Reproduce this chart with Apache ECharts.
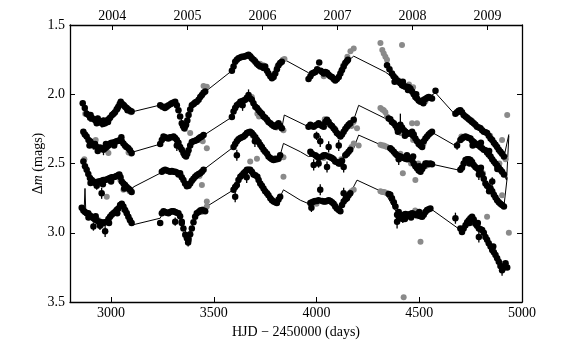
<!DOCTYPE html>
<html>
<head>
<meta charset="utf-8">
<script src="https://cdn.jsdelivr.net/npm/echarts@6/dist/echarts.min.js"></script>
<style>
  html, body { margin: 0; padding: 0; background: #fff; }
  #chart { width: 565px; height: 347px; }
</style>
</head>
<body>
<div id="chart"></div>
<script>
// bottom axis (days) and top axis (calendar years)
const dayTicks = [3000, 3500, 4000, 4500, 5000];
const yearTicks = [3005.5, 3371.5, 3736.5, 4101.5, 4466.5, 4832.5];
const yearLabels = ['2004', '2005', '2006', '2007', '2008', '2009'];

// [HJD-2450000, dm, error]  -- curve A (top)
const blackA = [
  [2862,2.065,.02],[2872,2.1,.02],[2881,2.14,.02],[2890,2.15,.02],[2898,2.17,.03],[2906,2.17,.02],[2915,2.18,.02],[2925,2.19,.02],[2935,2.175,.02],[2946,2.2,.02],[2955,2.21,.03],[2963,2.19,.02],[2971,2.21,.02],[2980,2.19,.02],[2988,2.18,.02],[2995,2.17,.02],[3005,2.15,.02],[3012,2.14,.02],[3019,2.13,.02],[3027,2.11,.02],[3035,2.09,.02],[3042,2.07,.02],[3047,2.055,.02],[3055,2.07,.02],[3062,2.08,.02],[3068,2.09,.02],[3076,2.1,.02],[3084,2.11,.02],[3092,2.12,.02],[3100,2.125,.02],
  [2900,2.15],[2930,2.21],[2960,2.215],[2985,2.2],[3030,2.105],[3080,2.115],
  [3239,2.08],[3250,2.09],[3262,2.1],[3271,2.09],[3280,2.08],[3290,2.07],[3296,2.065],[3304,2.06],[3312,2.055],[3320,2.08],[3328,2.115],[3336,2.16],[3344,2.21],[3350,2.23],[3356,2.245],[3361,2.23],[3365,2.22],[3371,2.19],[3377,2.15],[3385,2.11],[3393,2.08],[3401,2.07],[3409,2.06],[3417,2.055],[3426,2.04],[3434,2.02],[3442,2.005],[3450,1.99],[3458,1.98],
  [3588,1.83],[3596,1.8],[3604,1.765],[3612,1.75],[3620,1.74],[3629,1.735],[3637,1.73],[3645,1.73],[3653,1.725],[3661,1.72],[3669,1.715],[3677,1.725],[3685,1.74],[3693,1.75],[3702,1.765],[3710,1.78],[3718,1.79],[3726,1.8],[3734,1.8],[3742,1.81],[3750,1.8],[3759,1.83],[3766,1.85],[3775,1.87],[3783,1.885],[3791,1.875],[3799,1.85],[3807,1.82],[3815,1.79],[3823,1.775],[3831,1.765],
  [3961,1.89],[3970,1.87],[3978,1.85],[3986,1.845],[3994,1.84],[4003,1.82],[4013,1.77],[4020,1.83],[4027,1.84],[4035,1.85],[4043,1.84],[4051,1.845],[4059,1.86],[4067,1.87],[4075,1.875],[4083,1.89],[4091,1.9],[4099,1.89],[4108,1.875],[4116,1.85],[4124,1.825],[4132,1.8],[4140,1.775],[4148,1.76],[4153,1.75],
  [4343,1.79],[4355,1.82],[4367,1.85],[4375,1.87],[4384,1.885],[4392,1.9],[4400,1.91],[4408,1.92],[4416,1.935],[4424,1.94],[4432,1.945],[4440,1.945],[4449,1.95],[4457,1.96],[4465,1.98],[4473,2.0],[4481,2.02],[4489,2.03],[4497,2.045],[4506,2.055],[4514,2.05],[4522,2.04],[4530,2.035],[4538,2.025],[4546,2.02],[4554,2.025],[4562,2.03],[4579,1.975],
  [4380,1.91],[4420,1.91],[4445,1.97],[4485,2.0],[4520,2.065],
  [4676,2.14],[4684,2.13],[4692,2.12],[4700,2.115],[4708,2.13],[4716,2.15],[4725,2.16],[4733,2.17],[4741,2.18],[4749,2.19],[4757,2.2],[4765,2.21],[4773,2.22],[4781,2.235],[4790,2.24],[4798,2.245],[4806,2.26],[4814,2.27],[4822,2.275],[4830,2.28],[4838,2.3],[4847,2.32],[4855,2.33],[4863,2.35],[4871,2.365],[4879,2.38],[4887,2.4],[4895,2.415],[4903,2.43],[4912,2.45]
];
const grayA = [
  [2874,2.14],[2940,2.19],[3000,2.16],[3058,2.075],[3072,2.1],[3096,2.13],
  [3450,1.94],[3466,1.945],[3360,2.25],[3405,2.07],
  [3680,1.73],[3700,1.755],[3725,1.78],[3740,1.79],[3810,1.8],[3836,1.75],[3844,1.745],
  [4035,1.87],[4120,1.83],[4150,1.73],[4165,1.69],[4181,1.67],[4130,1.79],
  [4311,1.63],[4320,1.68],[4327,1.705],[4335,1.73],[4343,1.75],[4416,1.645],[4400,1.9],[4450,1.93],[4470,1.95],[4500,2.05],[4530,2.05],
  [4690,2.13],[4755,2.19],[4845,2.3],[4928,2.15,.04],[4903,2.33,.03]
];
const modelA = [
  [2862,2.065],[2906,2.17],[2971,2.2],[3019,2.13],[3047,2.06],[3084,2.11],[3108,2.125],[3239,2.078],[3312,2.055],[3356,2.24],[3393,2.09],[3442,2.01],[3460,1.98],
  [3588,1.83],[3620,1.745],[3669,1.715],[3718,1.79],[3783,1.885],[3815,1.79],[3844,1.75],[3961,1.845],[3994,1.835],[4051,1.845],[4091,1.895],[4140,1.775],[4181,1.725],
  [4335,1.84],[4392,1.9],[4440,1.945],[4506,2.05],[4546,2.02],[4579,1.99],[4676,2.15],[4700,2.12],[4765,2.205],[4830,2.28],[4879,2.38],[4912,2.455],[4936,2.29]
];

// curve B
const blackB = [
  [2865,2.27],[2873,2.29],[2881,2.305],[2890,2.33],[2898,2.34],[2906,2.355],[2914,2.37,.03],[2922,2.36],[2930,2.38],[2938,2.39],[2946,2.385],[2954,2.39],[2963,2.4,.04],[2971,2.39],[2979,2.38],[2987,2.37],[2995,2.355],[3003,2.35],[3011,2.35],[3019,2.345],[3027,2.34],[3035,2.335],[3044,2.33],[3052,2.34],[3060,2.355],[3068,2.37],[3076,2.38],[3084,2.39],[3092,2.405],[3100,2.425],
  [2895,2.37],[2935,2.41],[2975,2.36],[3015,2.37],[3050,2.31],
  [3239,2.36],[3247,2.33],[3255,2.305],[3263,2.31],[3271,2.315],[3279,2.32],[3287,2.31],[3296,2.31],[3304,2.305],[3312,2.315],[3320,2.33],[3328,2.35],[3336,2.38],[3344,2.4],[3352,2.425],[3358,2.44],[3365,2.45],[3371,2.43],[3377,2.405],[3385,2.37],[3393,2.345],[3401,2.34],[3409,2.335],[3417,2.33],[3426,2.32],[3434,2.31],[3442,2.305],[3450,2.295],[3320,2.37,.04],
  [3588,2.165],[3596,2.125],[3604,2.1],[3612,2.08],[3620,2.07],[3629,2.055],[3637,2.05],[3645,2.045],[3653,2.04],[3661,2.025],[3669,2.005,.04],[3677,2.03],[3685,2.04],[3693,2.065],[3702,2.09],[3710,2.1],[3718,2.115],[3726,2.13],[3734,2.14],[3742,2.16],[3750,2.17],[3759,2.185],[3766,2.2],[3775,2.21],[3783,2.22],[3791,2.23],[3799,2.235],[3807,2.22],[3815,2.21],[3823,2.23],[3831,2.245],[3640,2.08,.04],
  [3961,2.235],[3970,2.22],[3978,2.23],[3986,2.235],[3994,2.225],[4002,2.22],[4010,2.21],[4018,2.22],[4027,2.23],[4035,2.235],[4043,2.2],[4051,2.185],[4059,2.2],[4067,2.22],[4075,2.23],[4083,2.245],[4091,2.26],[4099,2.28],[4108,2.29],[4116,2.305],[4124,2.29],[4132,2.27],[4140,2.25],[4148,2.235],[4156,2.22],[4164,2.21],[4181,2.185],
  [4018,2.34,.04],[4059,2.38,.04],[4108,2.37,.04],[4000,2.3,.03],
  [4351,2.175],[4359,2.18],[4367,2.2],[4376,2.21],[4384,2.225],[4392,2.245],[4400,2.23],[4408,2.22,.08],[4416,2.24],[4425,2.26],[4433,2.27],[4441,2.28],[4449,2.285],[4457,2.28],[4465,2.27],[4473,2.29],[4481,2.32],[4489,2.34],[4497,2.36],[4506,2.37],[4514,2.38],[4522,2.34],[4530,2.32],[4538,2.305],[4546,2.29],[4554,2.28],[4562,2.27],
  [4396,2.27],[4430,2.3],[4470,2.3],[4510,2.35],
  [4684,2.37,.03],[4700,2.33],[4708,2.32],[4716,2.31],[4725,2.305],[4733,2.31],[4741,2.315],[4749,2.32],[4757,2.335],[4765,2.345],[4773,2.355],[4781,2.365],[4790,2.37],[4798,2.38],[4806,2.39],[4814,2.4],[4822,2.405],[4830,2.42],[4838,2.435],[4847,2.45],[4855,2.47],[4863,2.485],[4871,2.5],[4879,2.515],[4887,2.53],[4895,2.545],[4903,2.56],[4912,2.58],
  [4760,2.37],[4800,2.35],[4840,2.41],[4880,2.54]
];
const grayB = [
  [2870,2.29],[2925,2.33],[2987,2.425,.04],[3040,2.335],[3070,2.38],[3085,2.42,.03],[3098,2.43],
  [3385,2.28],[3430,2.33],[3466,2.39,.04],[3446,2.34],
  [3660,2.03],[3685,2.02],[3712,2.14],[3720,2.16],[3839,2.26,.04],[3805,2.24],
  [4040,2.18],[4090,2.25],[4170,2.23],[4197,2.245,.03],[4180,2.2],
  [4311,2.1],[4320,2.11],[4327,2.115],[4335,2.13],[4343,2.16],[4489,2.21],[4465,2.21],[4410,2.28],[4470,2.33],[4500,2.35],[4520,2.36],
  [4705,2.305],[4760,2.36],[4890,2.5,.03],[4920,2.47]
];
const modelB = [
  [2865,2.27],[2906,2.355],[2954,2.39],[2995,2.355],[3044,2.33],[3092,2.405],[3100,2.42],[3239,2.36],[3255,2.305],[3304,2.305],[3336,2.38],[3365,2.45],[3393,2.345],[3442,2.305],[3450,2.295],
  [3588,2.165],[3612,2.08],[3669,2.01],[3718,2.115],[3783,2.22],[3831,2.245],[3843,2.15],[3961,2.235],[4010,2.21],[4051,2.19],[4116,2.305],[4181,2.185],[4205,2.08],
  [4335,2.175],[4392,2.24],[4449,2.285],[4514,2.375],[4562,2.275],[4668,2.365],[4700,2.33],[4725,2.305],[4798,2.38],[4871,2.5],[4912,2.58],[4925,2.62],[4936,2.3]
];

// curve C
const blackC = [
  [2865,2.485],[2873,2.52],[2881,2.545],[2889,2.575],[2897,2.605],[2906,2.62],[2914,2.63],[2922,2.64],[2930,2.635],[2938,2.63],[2946,2.63],[2954,2.625],[2963,2.62],[2971,2.62],[2979,2.615],[2987,2.61],[2995,2.605],[3003,2.6],[3011,2.6],[3019,2.595],[3027,2.59],[3035,2.585],[3040,2.58],[3046,2.6],[3052,2.63],[3060,2.645],[3068,2.655],[3076,2.67],[3084,2.68],[3092,2.69],[3100,2.705],[2954,2.715,.04],[2930,2.66,.03],
  [2900,2.64],[2960,2.65],[3000,2.63],[3064,2.68],
  [3247,2.56],[3255,2.55],[3263,2.545],[3271,2.55],[3279,2.555],[3287,2.56],[3296,2.555],[3304,2.56],[3312,2.56],[3320,2.565],[3328,2.58],[3336,2.57],[3344,2.6],[3352,2.62],[3360,2.645],[3369,2.665],[3377,2.66],[3385,2.645],[3393,2.625],[3401,2.61],[3409,2.595],[3417,2.585],[3426,2.575],[3434,2.57],[3442,2.56],[3450,2.545],
  [3596,2.38],[3604,2.36],[3612,2.34],[3620,2.325],[3629,2.315],[3637,2.31],[3645,2.305],[3653,2.295],[3661,2.28],[3669,2.275],[3677,2.27],[3685,2.28],[3693,2.295],[3702,2.31],[3710,2.33],[3718,2.345],[3726,2.365],[3734,2.38],[3742,2.4],[3750,2.415],[3759,2.43],[3766,2.45],[3775,2.46],[3783,2.47],[3791,2.475],[3799,2.47],[3807,2.47],[3815,2.465],[3823,2.44],[3612,2.44,.04],[3700,2.34,.04],
  [3970,2.415],[3978,2.43],[3994,2.44],[4002,2.45],[4010,2.46],[4027,2.45],[4035,2.44],[4043,2.44],[4059,2.45],[4067,2.455],[4075,2.46],[4083,2.47],[4091,2.485],[4099,2.49],[4108,2.5],[4116,2.5],[4124,2.48],[4140,2.44],[4148,2.43],[4156,2.415],[4164,2.4],
  [3986,2.51,.04],[4010,2.5,.03],[4051,2.525,.04],[4132,2.525,.04],
  [4359,2.39],[4367,2.4],[4376,2.415],[4384,2.43],[4392,2.44],[4400,2.445],[4408,2.45],[4416,2.455],[4424,2.46],[4433,2.465],[4441,2.47],[4449,2.465],[4457,2.465],[4465,2.475],[4473,2.5],[4481,2.52],[4489,2.535],[4497,2.55],[4506,2.56],[4514,2.54],[4522,2.52],[4530,2.5],[4538,2.5],[4546,2.505],[4554,2.5],[4562,2.505],[4400,2.47,.04],
  [4440,2.44],[4470,2.45],[4500,2.52],
  [4700,2.545],[4708,2.53],[4716,2.5],[4725,2.475],[4733,2.47],[4741,2.47],[4749,2.475],[4757,2.49],[4765,2.51],[4773,2.525],[4781,2.535],[4790,2.545],[4798,2.56],[4806,2.58],[4814,2.61],[4822,2.645],[4830,2.66],[4838,2.67],[4847,2.68],[4855,2.7],[4863,2.725],[4871,2.745],[4879,2.765],[4887,2.78],[4895,2.79],[4903,2.8],[4912,2.81],[4790,2.58,.04],[4855,2.63,.03],
  [4745,2.5],[4800,2.53],[4840,2.7]
];
const grayC = [
  [2870,2.47,.03],[2979,2.74,.04],[3060,2.69,.03],[3090,2.7],[3045,2.62],
  [3442,2.655,.03],[3466,2.775,.04],[3430,2.59],[3375,2.65],
  [3680,2.28],[3690,2.3],[3839,2.455],[3800,2.46],
  [4035,2.46],[4120,2.47],[4181,2.355],[4205,2.37,.03],[4170,2.38],
  [4311,2.365],[4320,2.37],[4327,2.37],[4335,2.375],[4343,2.38],[4408,2.43],[4420,2.57,.08],[4460,2.5],[4481,2.62],[4495,2.5],[4530,2.52],
  [4720,2.5],[4810,2.57],[4903,2.73,.04]
];
const modelC = [
  [2865,2.485],[2897,2.605],[2922,2.635],[2995,2.605],[3040,2.585],[3068,2.655],[3100,2.7],[3108,2.67],[3239,2.57],[3263,2.545],[3328,2.575],[3369,2.665],[3409,2.595],[3450,2.545],
  [3588,2.39],[3629,2.315],[3677,2.27],[3726,2.365],[3791,2.475],[3823,2.44],[3839,2.355],[3921,2.415],[3961,2.45],[3994,2.44],[4027,2.44],[4067,2.45],[4108,2.49],[4140,2.44],[4181,2.39],[4205,2.295],
  [4335,2.38],[4408,2.45],[4465,2.475],[4506,2.56],[4530,2.5],[4562,2.505],[4684,2.545],[4700,2.545],[4733,2.47],[4790,2.545],[4822,2.645],[4879,2.765],[4912,2.81],[4928,2.6]
];

// curve D (bottom)
const blackD = [
  [2857,2.82],[2865,2.84],[2873,2.85],[2881,2.86],[2889,2.86],[2897,2.875],[2906,2.885],[2914,2.895],[2922,2.905],[2930,2.91],[2938,2.92],[2946,2.925],[2954,2.925],[2963,2.93],[2971,2.925],[2979,2.92],[2987,2.9],[2995,2.885],[3003,2.87],[3011,2.86],[3019,2.85],[3027,2.835],[3035,2.825],[3044,2.8],[3052,2.79],[3060,2.81],[3068,2.835],[3076,2.86],[3084,2.885],[3092,2.91],[3100,2.93],[2914,2.955,.03],[2971,2.99,.04],[2946,2.95,.03],
  [2890,2.89],[2925,2.88],[2990,2.93],[3030,2.86],
  [3239,2.93],[3247,2.86],[3255,2.845],[3263,2.85],[3271,2.855],[3279,2.86],[3287,2.85],[3296,2.845],[3304,2.845],[3312,2.85],[3320,2.855],[3328,2.86],[3336,2.88],[3344,2.92],[3352,2.97],[3361,3.015],[3369,3.04],[3377,3.05],[3385,3.01],[3393,2.97],[3401,2.925],[3409,2.885],[3417,2.86],[3426,2.85],[3434,2.84],[3442,2.835],[3450,2.84],[3458,2.845],[3312,2.92,.03],[3344,2.93,.03],[3375,3.07,.03],
  [3596,2.69],[3604,2.67],[3612,2.655],[3620,2.62],[3629,2.595],[3637,2.585],[3645,2.57],[3653,2.56],[3661,2.545],[3669,2.545],[3677,2.545],[3685,2.56],[3693,2.58],[3702,2.585],[3712,2.595],[3718,2.62],[3726,2.645],[3734,2.66],[3742,2.68],[3750,2.7],[3759,2.715],[3766,2.73],[3775,2.75],[3783,2.765],[3791,2.775],[3799,2.78],[3807,2.785],[3815,2.76],[3823,2.74],[3604,2.74,.04],[3660,2.6,.04],
  [3970,2.785],[3978,2.78],[3986,2.775],[3994,2.77],[4002,2.77],[4010,2.765],[4027,2.77],[4035,2.775],[4043,2.775],[4051,2.77],[4059,2.765],[4067,2.77],[4075,2.78],[4083,2.79],[4091,2.81],[4099,2.825],[4108,2.835],[4116,2.845],[4124,2.8],[4132,2.775],[4140,2.76],[4148,2.75],[4156,2.73],[4164,2.715],[4018,2.69,.04],[4132,2.715,.04],[3975,2.82,.03],
  [4351,2.72],[4359,2.725],[4367,2.75],[4376,2.78],[4384,2.81],[4392,2.87],[4400,2.885],[4408,2.895],[4416,2.88],[4424,2.87],[4433,2.865],[4441,2.87],[4449,2.87],[4457,2.865],[4465,2.86],[4473,2.865],[4481,2.87],[4489,2.87],[4497,2.875],[4506,2.88],[4514,2.885],[4522,2.87],[4530,2.85],[4538,2.835],[4546,2.83],[4554,2.825],[4392,2.92,.05],[4420,2.9,.03],
  [4400,2.85],[4430,2.9],[4460,2.89],[4500,2.85],
  [4676,2.895,.04],[4700,2.97],[4708,2.995],[4716,2.97],[4725,2.945],[4733,2.925],[4741,2.91],[4749,2.895],[4757,2.885],[4765,2.905],[4773,2.935],[4781,2.95],[4790,2.97],[4798,2.975],[4806,2.98],[4814,3.0],[4822,3.03],[4830,3.05],[4838,3.075],[4847,3.1],[4855,3.125],[4863,3.14],[4871,3.16],[4879,3.185],[4887,3.21],[4895,3.24],[4903,3.255],[4912,3.25],[4920,3.22],[4928,3.25],[4790,3.03,.04],[4903,3.27,.04],
  [4745,2.93],[4785,2.93],[4860,3.1]
];
const grayD = [
  [2940,2.91],[2960,2.94],[3060,2.83],[3075,2.85],[3090,2.9],
  [3380,3.03],[3440,2.85],[3466,2.81],[3450,2.83],
  [3677,2.485,.03],[3710,2.465,.03],[3690,2.57],[3839,2.595,.05],
  [4000,2.79],[4090,2.8],[4181,2.69],[4170,2.7],
  [4311,2.7],[4320,2.705],[4327,2.705],[4335,2.71],[4343,2.715],[4489,2.88],[4506,3.065],[4480,2.84],[4440,2.87],[4424,3.465,.06],
  [4830,2.885,.03],[4903,3.225],[4936,3.0,.05],[4932,3.56,.15]
];
const modelD = [
  [2857,2.82],[2869,2.83],[2873,2.68],[2877,2.85],[2906,2.885],[2963,2.93],[3011,2.86],[3052,2.79],[3084,2.885],[3100,2.945],[3239,2.895],[3255,2.845],[3328,2.86],[3377,3.05],[3409,2.885],[3442,2.835],[3466,2.81],
  [3596,2.69],[3629,2.595],[3677,2.545],[3712,2.595],[3807,2.785],[3823,2.74],[3839,2.69],[3921,2.765],[3961,2.79],[4010,2.765],[4067,2.77],[4116,2.84],[4164,2.715],[4197,2.62],
  [4335,2.715],[4392,2.86],[4449,2.87],[4514,2.885],[4554,2.825],[4700,2.98],[4757,2.89],[4806,2.98],[4871,3.16],[4903,3.255],[4936,3.255]
];

const FONT = 'Liberation Serif';
const GRAY = '#8a8a8a';

function errBars(data, color) {
  return {
    type: 'custom',
    data: data,
    clip: true,
    encode: { x: 0, y: 1 },
    z: 2,
    silent: true,
    renderItem: function (params, api) {
      const e = api.value(2);
      if (!e) return;
      const x = api.value(0), y = api.value(1);
      const p1 = api.coord([x, y - e]);
      const p2 = api.coord([x, y + e]);
      return {
        type: 'line',
        shape: { x1: p1[0], y1: p1[1], x2: p2[0], y2: p2[1] },
        style: { stroke: color, lineWidth: 1.3 }
      };
    }
  };
}

function model(data) {
  return {
    type: 'line', data: data, showSymbol: false, symbol: 'none', z: 1,
    lineStyle: { color: '#000', width: 1 }, animation: false, clip: true
  };
}

function dots(data, color, size, z) {
  return {
    type: 'scatter', data: data, symbolSize: size, z: z, clip: true,
    itemStyle: { color: color, opacity: 1 }, animation: false
  };
}

const allBlack = blackA.concat(blackB, blackC, blackD);
const allGray = grayA.concat(grayB, grayC, grayD);

const chart = echarts.init(document.getElementById('chart'));
const axisLineStyle = { show: true, lineStyle: { color: '#000', width: 1.3 } };
const tickStyle = { show: true, inside: true, length: 5, lineStyle: { color: '#000', width: 1 } };

chart.setOption({
  animation: false,
  grid: { left: 70, right: 43, top: 25, bottom: 45 },
  xAxis: [
    {
      type: 'value', min: 2800, max: 5000, position: 'bottom',
      axisLine: axisLineStyle,
      axisTick: Object.assign({ customValues: dayTicks }, tickStyle),
      axisLabel: { customValues: dayTicks, color: '#000', fontFamily: FONT, fontSize: 14, margin: 4,
        formatter: function (v) { return String(v); } },
      splitLine: { show: false },
      name: 'HJD − 2450000 (days)', nameLocation: 'middle', nameGap: 21,
      nameTextStyle: { color: '#000', fontFamily: FONT, fontSize: 14 }
    },
    {
      type: 'value', min: 2800, max: 5000, position: 'top',
      axisLine: axisLineStyle,
      axisTick: Object.assign({ customValues: yearTicks }, tickStyle),
      axisLabel: {
        customValues: yearTicks, color: '#000', fontFamily: FONT, fontSize: 14, margin: 2,
        formatter: function (v) {
          let best = 0;
          yearTicks.forEach(function (t, i) { if (Math.abs(t - v) < Math.abs(yearTicks[best] - v)) best = i; });
          return yearLabels[best];
        }
      },
      splitLine: { show: false }
    }
  ],
  yAxis: [
    {
      type: 'value', min: 1.5, max: 3.5, interval: 0.5, inverse: true, position: 'left',
      axisLine: axisLineStyle, axisTick: tickStyle,
      axisLabel: { color: '#000', fontFamily: FONT, fontSize: 14, margin: 5, formatter: function (v) { return v.toFixed(1); } },
      splitLine: { show: false },
      name: '{a|Δ}{b|m}{a| (mags)}', nameLocation: 'middle', nameGap: 25, nameRotate: 90,
      nameMoveOverlap: false,
      nameTextStyle: {
        rich: {
          a: { fontFamily: FONT, fontSize: 14, color: '#000' },
          b: { fontFamily: FONT, fontSize: 14, color: '#000', fontStyle: 'italic' }
        }
      }
    },
    {
      type: 'value', min: 1.5, max: 3.5, interval: 0.5, inverse: true, position: 'right',
      axisLine: axisLineStyle, axisTick: tickStyle,
      axisLabel: { show: false }, splitLine: { show: false }
    }
  ],
  series: [
    model(modelA), model(modelB), model(modelC), model(modelD),
    errBars(allGray, GRAY),
    dots(allGray, GRAY, 6, 3),
    errBars(allBlack, '#000'),
    dots(allBlack, '#000', 6.5, 4)
  ]
});
</script>
</body>
</html>
